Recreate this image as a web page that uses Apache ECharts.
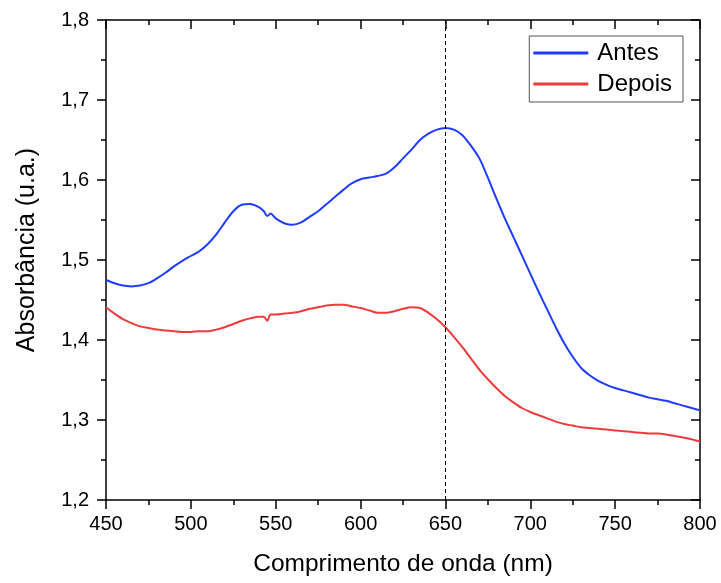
<!DOCTYPE html>
<html>
<head>
<meta charset="utf-8">
<script src="https://cdn.jsdelivr.net/npm/echarts@6/dist/echarts.min.js"></script>
<style>
  html, body { margin: 0; padding: 0; background: #fff; }
  #chart { width: 721px; height: 583px; }
</style>
</head>
<body>
<div id="chart"></div>
<script>
const wavelength = [450, 455, 460, 465, 470, 475, 480, 485, 490, 495, 500, 505, 510, 515, 520, 525, 530, 535, 540, 543, 545, 547, 550, 555, 560, 565, 570, 575, 580, 585, 590, 595, 600, 605, 610, 615, 620, 625, 630, 635, 640, 645, 650, 655, 660, 665, 670, 675, 680, 685, 690, 695, 700, 705, 710, 715, 720, 725, 730, 735, 740, 745, 750, 755, 760, 765, 770, 775, 780, 785, 790, 795, 800];

const antes = [1.475, 1.471, 1.468, 1.467, 1.468, 1.471, 1.477, 1.484, 1.492, 1.499, 1.505, 1.511, 1.520, 1.532, 1.547, 1.561, 1.569, 1.570, 1.566, 1.561, 1.555, 1.558, 1.552, 1.546, 1.544, 1.547, 1.554, 1.561, 1.570, 1.579, 1.588, 1.596, 1.601, 1.603, 1.605, 1.608, 1.616, 1.627, 1.638, 1.650, 1.658, 1.663, 1.665, 1.663, 1.656, 1.643, 1.627, 1.603, 1.577, 1.552, 1.529, 1.506, 1.483, 1.460, 1.438, 1.416, 1.396, 1.379, 1.365, 1.356, 1.349, 1.344, 1.340, 1.337, 1.334, 1.331, 1.328, 1.326, 1.324, 1.321, 1.318, 1.315, 1.312];

const depois = [1.441, 1.433, 1.426, 1.421, 1.417, 1.415, 1.413, 1.412, 1.411, 1.410, 1.410, 1.411, 1.411, 1.413, 1.416, 1.420, 1.424, 1.427, 1.429, 1.429, 1.424, 1.432, 1.432, 1.433, 1.434, 1.436, 1.439, 1.441, 1.443, 1.444, 1.444, 1.442, 1.440, 1.437, 1.434, 1.434, 1.436, 1.439, 1.441, 1.440, 1.434, 1.426, 1.416, 1.404, 1.391, 1.377, 1.363, 1.351, 1.340, 1.330, 1.322, 1.315, 1.310, 1.306, 1.302, 1.298, 1.295, 1.293, 1.291, 1.290, 1.289, 1.288, 1.287, 1.286, 1.285, 1.284, 1.283, 1.283, 1.282, 1.280, 1.278, 1.276, 1.273];

const markerWavelength = 650;

const font = "Liberation Sans, Arial, sans-serif";
const axisLine = { show: true, lineStyle: { color: "#000", width: 1.5 } };
const tickStyle = { color: "#000", width: 1.5 };

function mirrorAxis(extra) {
  return Object.assign({
    type: "value",
    axisLine: axisLine,
    axisTick: { show: true, inside: true, length: 9, lineStyle: tickStyle },
    minorTick: { show: true, splitNumber: 2, length: 5, lineStyle: tickStyle },
    axisLabel: { show: false },
    splitLine: { show: false },
  }, extra);
}

const chart = echarts.init(document.getElementById("chart"));
chart.setOption({
  animation: false,
  backgroundColor: "#fff",
  textStyle: { fontFamily: font },
  grid: { left: 106, right: 21, top: 20, bottom: 83 },
  legend: {
    orient: "vertical",
    right: 38,
    top: 36,
    icon: "rect",
    itemWidth: 55,
    itemHeight: 3,
    itemGap: 7,
    padding: [5, 11, 6, 4],
    borderColor: "#555",
    borderWidth: 1,
    textStyle: { fontFamily: font, fontSize: 24, color: "#000", padding: [0, 0, 0, 4] },
  },
  xAxis: [
    {
      type: "value",
      min: 450,
      max: 800,
      interval: 50,
      name: "Comprimento de onda (nm)",
      nameLocation: "middle",
      nameGap: 52,
      nameTextStyle: { fontFamily: font, fontSize: 24.5, color: "#000" },
      axisLine: axisLine,
      axisTick: { show: true, inside: false, length: 9, lineStyle: tickStyle },
      minorTick: { show: true, splitNumber: 2, length: 5, lineStyle: tickStyle },
      axisLabel: { fontFamily: font, fontSize: 20, color: "#000", margin: 14 },
      splitLine: { show: false },
    },
    mirrorAxis({ position: "top", min: 450, max: 800, interval: 50 }),
  ],
  yAxis: [
    {
      type: "value",
      min: 1.2,
      max: 1.8,
      interval: 0.1,
      name: "Absorbância (u.a.)",
      nameLocation: "middle",
      nameGap: 66,
      nameTextStyle: { fontFamily: font, fontSize: 25, color: "#000", padding: [0, 0, 0, 20] },
      axisLine: axisLine,
      axisTick: { show: true, inside: false, length: 9, lineStyle: tickStyle },
      minorTick: { show: true, splitNumber: 2, length: 5, lineStyle: tickStyle },
      axisLabel: {
        fontFamily: font, fontSize: 20, color: "#000", margin: 17,
        formatter: (v) => v.toFixed(1).replace(".", ","),
      },
      splitLine: { show: false },
    },
    mirrorAxis({ position: "right", min: 1.2, max: 1.8, interval: 0.1 }),
  ],
  series: [
    {
      name: "Antes",
      type: "line",
      showSymbol: false,
      smooth: 0.3,
      color: "#1f3cff",
      lineStyle: { width: 2 },
      data: wavelength.map((w, i) => [w, antes[i]]),
      markLine: {
        silent: true,
        symbol: "none",
        label: { show: false },
        lineStyle: { color: "#000", type: [4, 3], width: 1 },
        data: [{ xAxis: markerWavelength }],
      },
    },
    {
      name: "Depois",
      type: "line",
      showSymbol: false,
      smooth: 0.3,
      color: "#ef3b3b",
      lineStyle: { width: 2 },
      data: wavelength.map((w, i) => [w, depois[i]]),
    },
  ],
});
</script>
</body>
</html>
